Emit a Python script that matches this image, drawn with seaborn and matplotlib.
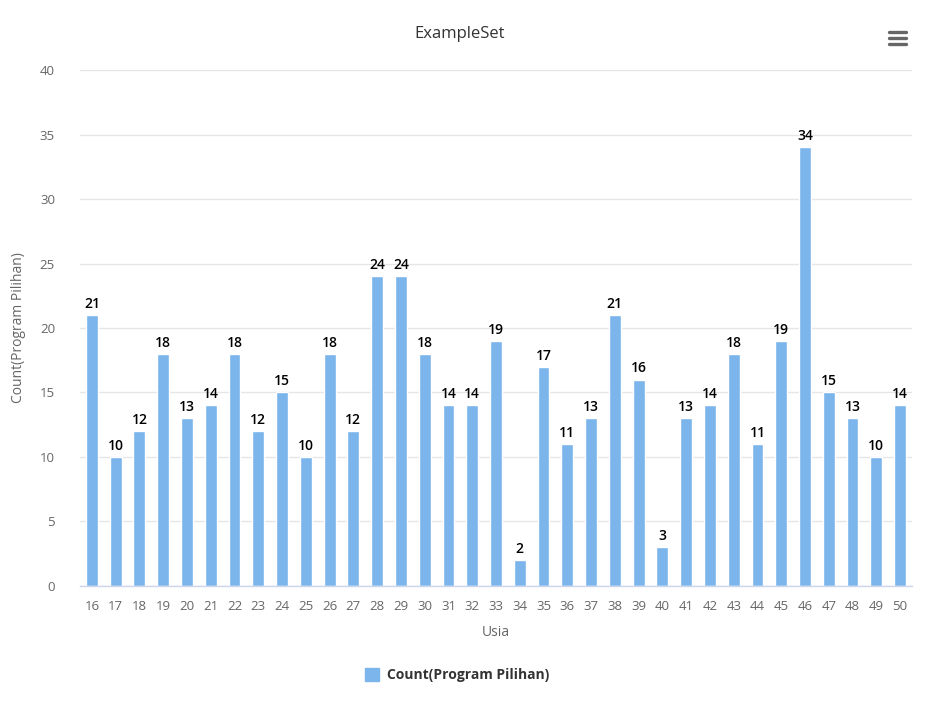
import matplotlib
matplotlib.use("Agg")
import matplotlib.pyplot as plt
import seaborn as sns
import pandas as pd
from matplotlib.lines import Line2D
from matplotlib.patches import Patch

ages = [str(a) for a in range(16, 51)]
counts = [21, 10, 12, 18, 13, 14, 18, 12, 15, 10, 18, 12, 24, 24, 18, 14, 14, 19, 2,
          17, 11, 13, 21, 16, 3, 13, 14, 18, 11, 19, 34, 15, 13, 10, 14]
y_ticks = [0, 5, 10, 15, 20, 25, 30, 35, 40]
series_name = "Count(Program Pilihan)"

bar_color = "#7cb5ec"

sns.set_theme(style="white")
plt.rcParams["font.family"] = ["Open Sans", "DejaVu Sans"]

df = pd.DataFrame({"Usia": ages, series_name: counts})

fig = plt.figure(figsize=(9.27, 7.16), dpi=100)
ax = fig.add_axes([0.0863, 0.1816, 0.8975, 0.7206])

sns.barplot(data=df, x="Usia", y=series_name, color=bar_color, width=0.5,
            saturation=1, ax=ax, order=ages)

ax.set_ylim(0, 40)
ax.set_yticks(y_ticks)
ax.set_xlim(-0.5, len(ages) - 0.5)
ax.yaxis.grid(True, color="#e6e6e6", linewidth=1)
ax.set_axisbelow(True)
for s in ["top", "right", "left"]:
    ax.spines[s].set_visible(False)
ax.spines["bottom"].set_color("#ccd6eb")
ax.spines["bottom"].set_linewidth(1)

ax.tick_params(axis="x", length=0, pad=10, labelsize=9.5, labelcolor="#666666")
ax.tick_params(axis="y", length=0, pad=18, labelsize=9.5, labelcolor="#666666")

ax.set_xlabel("Usia", fontsize=10, color="#666666", labelpad=9)
ax.set_ylabel(series_name, fontsize=10, color="#666666", labelpad=10)

for container in ax.containers:
    ax.bar_label(container, labels=[str(v) for v in counts], padding=3,
                 fontsize=10, fontweight="semibold", color="#000000")

fig.text(0.496, 0.953, "ExampleSet", ha="center", va="center",
         fontsize=12, color="#333333")

# context menu glyph
for yy in [0.9553, 0.9469, 0.9385]:
    fig.add_artist(Line2D([0.959, 0.977], [yy, yy], transform=fig.transFigure,
                          color="#666666", linewidth=2.4, solid_capstyle="round"))

handle = Patch(facecolor=bar_color, edgecolor=bar_color)
fig.legend([handle], [series_name], loc="center", bbox_to_anchor=(0.493, 0.057),
           frameon=False, handlelength=1.0, handleheight=1.0,
           handletextpad=0.6, prop={"weight": "bold", "size": 10})
leg = fig.legends[0]
for t in leg.get_texts():
    t.set_color("#333333")

fig.savefig("out.png", dpi=100, facecolor="white")
